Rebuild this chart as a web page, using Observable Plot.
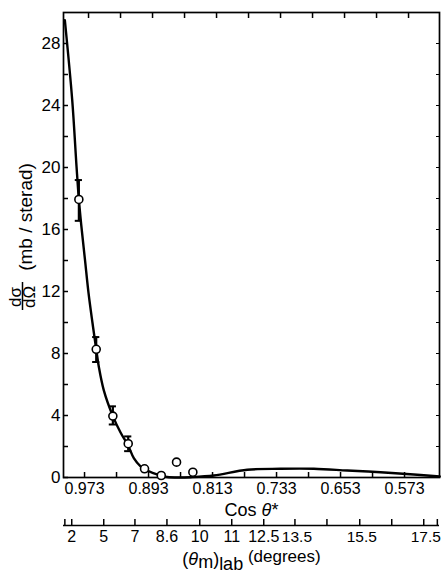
<!DOCTYPE html>
<html><head><meta charset="utf-8">
<script src="https://cdn.jsdelivr.net/npm/d3@7"></script>
<script src="https://cdn.jsdelivr.net/npm/@observablehq/plot@0.6"></script>
<style>
body{margin:0;background:#fff;}
svg{display:block;}
</style>
</head><body><div id="chart"></div>
<script>
// Measured data points (cos θ*, dσ/dΩ in mb/sterad)
const pointCos = [0.9851, 0.9634, 0.9426, 0.9234, 0.903, 0.8821, 0.863, 0.8426];
const pointY   = [17.94, 8.27, 3.96, 2.18, 0.56, 0.13, 0.99, 0.34];
const errLo    = [16.56, 7.45, 3.42, 1.70, null, null, null, null];
const errHi    = [19.19, 9.06, 4.59, 2.65, null, null, null, null];

// Fitted curve
const curveCos = [1.0026, 0.9934, 0.988, 0.9851, 0.9821, 0.9774, 0.973, 0.968, 0.9634, 0.9601, 0.9539, 0.9426, 0.933, 0.9234, 0.9164, 0.908, 0.903, 0.893, 0.8821, 0.8746, 0.86, 0.8455, 0.8164, 0.7746, 0.733, 0.6914, 0.6496, 0.608, 0.5664, 0.534];
const curveY   = [29.5, 24.35, 20.05, 17.94, 16.28, 14.02, 11.89, 9.95, 8.27, 7.13, 5.62, 3.96, 2.9, 2.05, 1.25, 0.72, 0.55, 0.3, 0.12, 0.03, 0.0, 0.02, 0.13, 0.5, 0.56, 0.56, 0.45, 0.34, 0.19, 0.06];

// Axes
const cosTicks = [0.973, 0.933, 0.893, 0.853, 0.813, 0.773, 0.733, 0.693, 0.653, 0.613, 0.573];
const cosTickLabels = ["0.973", "", "0.893", "", "0.813", "", "0.733", "", "0.653", "", "0.573"];
const yTicks = [0, 2, 4, 6, 8, 10, 12, 14, 16, 18, 20, 22, 24, 26, 28];
const yTickLabels = ["0", "", "4", "", "8", "", "12", "", "16", "", "20", "", "24", "", "28"];
const degTickCos = [1.0026, 0.994, 0.954, 0.915, 0.875, 0.834, 0.794, 0.754, 0.715, 0.675, 0.634, 0.594, 0.554, 0.537];
const degTickLabels = ["", "2", "5", "7", "8.6", "10", "11", "12.5", "13.5", "", "15.5", "", "17.5", ""];

const points = pointCos.map((c, i) => ({cos: c, y: pointY[i], lo: errLo[i], hi: errHi[i]}));
const errs = points.filter(d => d.lo != null);
const curve = curveCos.map((c, i) => ({cos: c, y: curveY[i]}));
const cosMap = new Map(cosTicks.map((v, i) => [v, cosTickLabels[i]]));
const yMap = new Map(yTicks.map((v, i) => [v, yTickLabels[i]]));
const degMap = new Map(degTickCos.map((v, i) => [v, degTickLabels[i]]));
const degSplit = 8; // labels from here on sit a little right of their ticks
const degLeft = new Set(degTickCos.slice(0, degSplit));
const capHalf = 0.0045;

const plot = Plot.plot({
  width: 442,
  height: 576,
  marginLeft: 63,
  marginRight: 3,
  marginTop: 12,
  marginBottom: 99,
  style: {fontFamily: "'Liberation Sans', Arial, sans-serif", fontSize: "16px", color: "black", background: "white"},
  x: {domain: [1.0043, 0.5343]},
  y: {domain: [0, 30]},
  marks: [
    Plot.frame({stroke: "black", strokeWidth: 1.7}),
    Plot.axisY(yTicks, {anchor: "left", tickSize: -5, tickPadding: 8, tickFormat: d => yMap.get(d), fontSize: 17, label: null, strokeWidth: 1.5}),
    Plot.axisY(yTicks.slice(1), {anchor: "right", tickSize: -4, tickFormat: () => "", label: null}),
    Plot.axisX(cosTicks, {anchor: "bottom", tickSize: -5, tickPadding: 10, dx: -4, tickFormat: d => cosMap.get(d), fontSize: 16, label: null, strokeWidth: 1.5}),
    Plot.axisX(cosTicks, {anchor: "top", tickSize: -5, tickFormat: () => "", label: null, strokeWidth: 1.5}),
    Plot.ruleY([0], {dy: 48, stroke: "black", strokeWidth: 1.5}),
    Plot.axisX(degTickCos, {anchor: "bottom", dy: 48, tickSize: -6, tickPadding: 11, tickFormat: d => degLeft.has(d) ? degMap.get(d) : "", fontSize: 16, label: null, strokeWidth: 1.5}),
    Plot.axisX(degTickCos.slice(degSplit), {anchor: "bottom", dy: 48, dx: 2, tickSize: 0, tickPadding: 5, tickFormat: d => degMap.get(d), fontSize: 15.5, label: null}),
    Plot.line(curve, {x: "cos", y: "y", curve: "catmull-rom", stroke: "black", strokeWidth: 2.4}),
    Plot.ruleX(errs, {x: "cos", y1: "lo", y2: "hi", stroke: "black", strokeWidth: 2.2}),
    Plot.ruleY(errs, {y: "lo", x1: d => d.cos + capHalf, x2: d => d.cos - capHalf, stroke: "black", strokeWidth: 2}),
    Plot.ruleY(errs, {y: "hi", x1: d => d.cos + capHalf, x2: d => d.cos - capHalf, stroke: "black", strokeWidth: 2}),
    Plot.dot(points, {x: "cos", y: "y", r: 4, fill: "white", stroke: "black", strokeWidth: 1.6}),
    Plot.text(["Cos θ*"], {frameAnchor: "bottom", lineAnchor: "middle", textAnchor: "middle", dy: 33, fontSize: 18}),
    Plot.text(["(θm)lab (degrees)"], {frameAnchor: "bottom", lineAnchor: "middle", textAnchor: "middle", dy: 82, fontSize: 18}),
    Plot.text(["(mb / sterad)"], {frameAnchor: "left", textAnchor: "middle", lineAnchor: "middle", rotate: -90, dx: -38, dy: -28, fontSize: 19}),
    Plot.text(["dσ"], {frameAnchor: "left", textAnchor: "middle", lineAnchor: "middle", rotate: -90, dx: -48, dy: 52, fontSize: 17}),
    Plot.text(["dΩ"], {frameAnchor: "left", textAnchor: "middle", lineAnchor: "middle", rotate: -90, dx: -34, dy: 52, fontSize: 17})
  ]
});

const svg = d3.select(plot);
svg.selectAll("text").each(function() {
  const t = this.textContent;
  const s = d3.select(this);
  if (t === "Cos θ*") {
    s.text(null);
    s.append("tspan").text("Cos ");
    s.append("tspan").attr("font-style", "italic").text("θ");
    s.append("tspan").text("*");
  } else if (t === "(θm)lab (degrees)") {
    s.text(null);
    s.append("tspan").text("(");
    s.append("tspan").attr("font-style", "italic").text("θ");
    s.append("tspan").attr("dy", 3).text("m");
    s.append("tspan").attr("dy", -3).text(")");
    s.append("tspan").attr("dy", 5).text("lab");
    s.append("tspan").attr("dy", -8).attr("font-size", 17).text(" (degrees)");
  }
});
// fraction bar of dσ/dΩ
svg.append("line").attr("x1", 22.5).attr("x2", 22.5).attr("y1", 282).attr("y2", 310)
  .attr("stroke", "black").attr("stroke-width", 1.5);

document.getElementById("chart").append(plot);
</script>
</body></html>
